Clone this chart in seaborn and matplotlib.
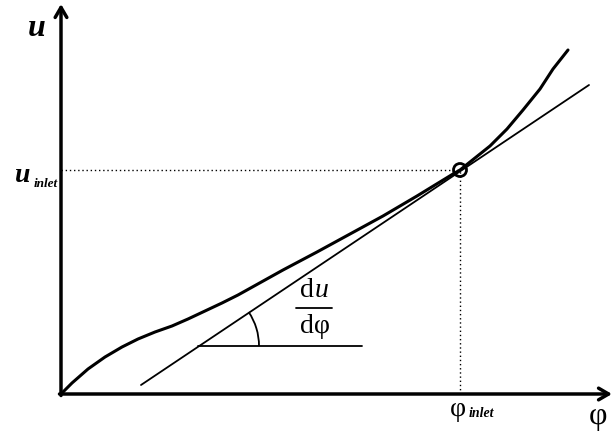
import matplotlib
matplotlib.use("Agg")
import matplotlib.pyplot as plt
from matplotlib.patches import Arc, Circle
import pandas as pd
import seaborn as sns

# curve u(phi) (origin at the axes corner)
phi = [0, 11, 27, 44, 61, 77, 94, 111, 127, 144, 161, 177, 204, 222,
       256, 289, 322, 356, 392, 399, 429, 446, 462, 479, 492, 507]
u = [0, 11, 25, 37, 47, 55, 62, 68, 75, 83, 91, 99, 114, 124,
     142, 160, 178, 198, 220, 224, 248, 265, 284, 305, 325, 344]

# tangent line at the inlet point
tan_phi = [80, 528]
tan_u = [9, 309]

# inlet point
phi_inlet = 399
u_inlet = 224

# horizontal reference for the slope angle
ref_phi = [137, 301]
ref_u = [48, 48]
slope_deg = 33.8

sns.set_theme(style="white")
serif = ["Liberation Serif", "DejaVu Serif"]

fig = plt.figure(figsize=(6.16, 4.35), dpi=100)
ax = fig.add_axes([0, 0, 1, 1])
ax.set_xlim(-61, 555)
ax.set_ylim(-40, 395)
ax.axis("off")

curve = pd.DataFrame({"phi": phi, "u": u})
sns.lineplot(data=curve, x="phi", y="u", color="black", lw=2.2, sort=False, ax=ax)
sns.lineplot(x=tan_phi, y=tan_u, color="black", lw=1.3, ax=ax)
sns.lineplot(x=ref_phi, y=ref_u, color="black", lw=1.3, ax=ax)

# dotted guides
ax.plot([0, phi_inlet], [u_inlet, u_inlet], color="black", lw=1, ls=(0, (1, 2)))
ax.plot([phi_inlet, phi_inlet], [0, u_inlet], color="black", lw=1, ls=(0, (1, 2)))

# axes with arrows
arrow = dict(arrowstyle="->,head_length=0.6,head_width=0.35", lw=2.5, color="black",
             shrinkA=0, shrinkB=0)
ax.annotate("", xy=(551, 0), xytext=(-1.5, 0), arrowprops=arrow)
ax.annotate("", xy=(0, 390), xytext=(0, -1.5), arrowprops=arrow)

# angle arc and inlet marker
ax.add_patch(Arc((ref_phi[0], ref_u[0]), 122, 122, theta1=0, theta2=slope_deg,
                 color="black", lw=1.3))
ax.add_patch(Circle((phi_inlet, u_inlet), 6.5, fill=False, ec="black", lw=2, zorder=5))

# labels
txt = dict(family=serif, color="black")
ax.text(-24, 367, "u", style="italic", weight="bold", fontsize=23,
        ha="center", va="center", **txt)
ax.text(-38, 219, "u", style="italic", weight="bold", fontsize=20,
        ha="center", va="center", **txt)
ax.text(-27, 211, "inlet", style="italic", weight="bold", fontsize=9.5,
        ha="left", va="center", **txt)
ax.text(397, -15, "\u03c6", fontsize=20, ha="center", va="center", **txt)
ax.text(408, -19, "inlet", style="italic", weight="bold", fontsize=10,
        ha="left", va="center", **txt)
ax.text(537, -22, "\u03c6", fontsize=23, ha="center", va="center", **txt)

ax.text(253, 92, "d", fontsize=20, ha="right", va="bottom", **txt)
ax.text(254, 92, "u", style="italic", fontsize=20, ha="left", va="bottom", **txt)
ax.plot([235, 271], [86, 86], color="black", lw=1.3)
ax.text(254, 81, "d\u03c6", fontsize=20, ha="center", va="top", **txt)

fig.savefig("out.png", dpi=100)
